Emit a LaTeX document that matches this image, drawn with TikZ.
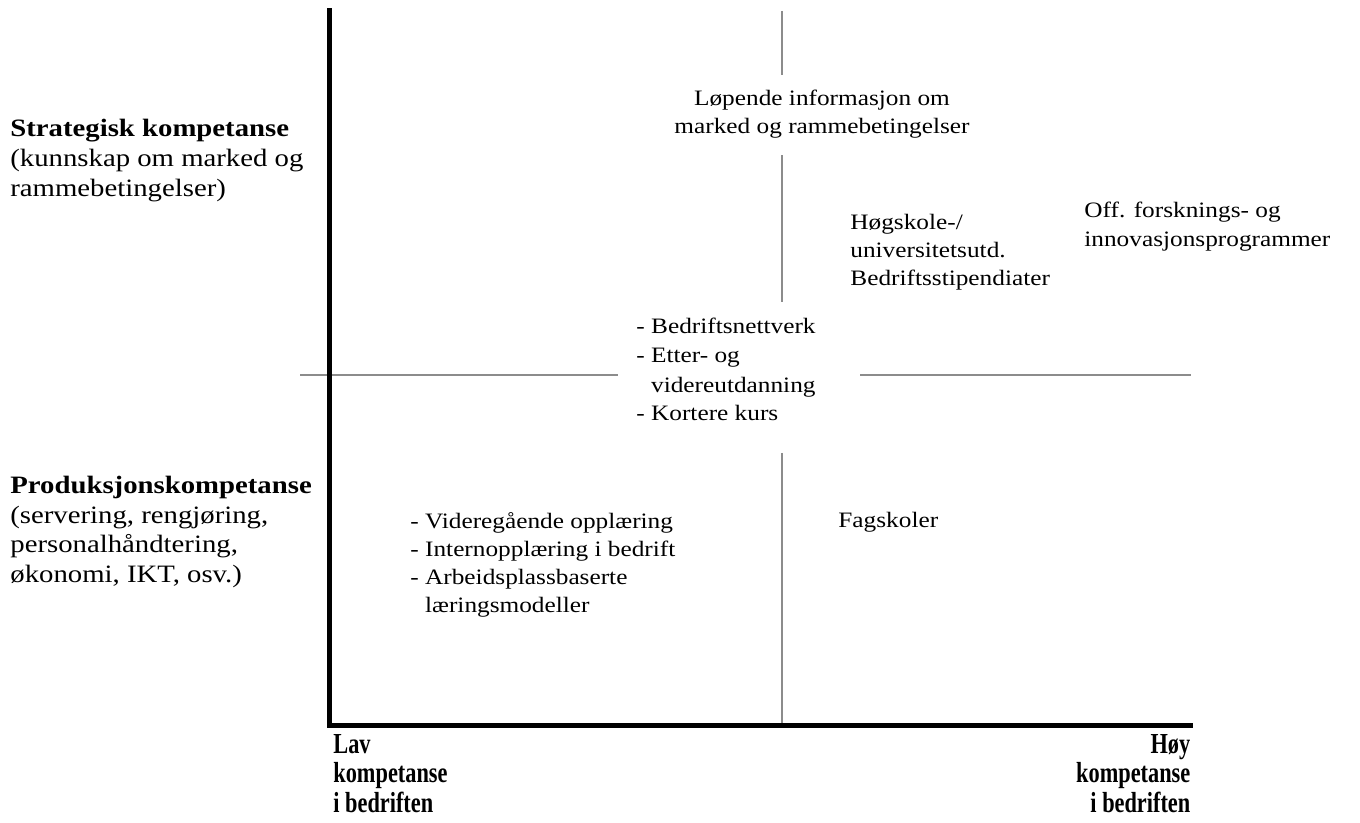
\documentclass[tikz,border=0pt]{standalone}
\usepackage{fontspec}
\setmainfont{Liberation Serif}[FakeStretch=1.15]
\newfontfamily\axisfont{Liberation Serif}[FakeStretch=0.77]
\usetikzlibrary{positioning}
\tikzset{axis/.style={line width=2.5pt, line join=miter, line cap=rect}}
\tikzset{divider/.style={line width=0.75pt, draw=black!45}}
\tikzset{lbl/.style={inner sep=0pt, align=left, anchor=base west,
    font=\fontsize{12.5}{15}\selectfont}}
\tikzset{item/.style={inner sep=0pt, align=left, anchor=base west,
    font=\fontsize{11}{14}\selectfont}}
\tikzset{endlbl/.style={inner sep=0pt, anchor=base west,
    font=\axisfont\bfseries\fontsize{14.5}{14.75}\selectfont}}

\begin{document}
\begin{tikzpicture}[x=0.5pt, y=-0.5pt]
\useasboundingbox (0,0) rectangle (1360,823);

\coordinate (top) at (329.5,11);
\coordinate (origin) at (329.5,725.3);
\coordinate (right) at (1190.7,725.3);
\coordinate (midtop) at (782,11);
\coordinate (midup) at (782,302);
\coordinate (midlow) at (782,453);
\coordinate (midbot) at (782,725.3);
\coordinate (westend) at (300,375);
\coordinate (westgap) at (618,375);
\coordinate (eastgap) at (860,375);
\coordinate (eastend) at (1190.7,375);

\draw[divider] (midtop) -- (midup);
\draw[divider] (midlow) -- (midbot);
\draw[divider] (westend) -- (westgap);
\draw[divider] (eastgap) -- (eastend);
\draw[axis] (top) -- (origin) -- (right);

\node[lbl] (strat) at (10,197) {\textbf{Strategisk kompetanse}\\(kunnskap om marked og\\rammebetingelser)};
\node[lbl, font=\fontsize{12.5}{14.7}\selectfont] (prod) at (10,582) {\textbf{Produksjonskompetanse}\\(servering, rengjøring,\\personalhåndtering,\\økonomi, IKT, osv.)};

\node[endlbl, align=left] (lav) at (333,812) {Lav\\kompetanse\\i bedriften};
\node[endlbl, align=right, anchor=base east] (hoy) at (1190.7,812) {Høy\\kompetanse\\i bedriften};

\node[item, align=center, anchor=base, fill=white, inner xsep=2pt, inner ysep=8pt] (info) at (822,134) {Løpende informasjon om\\marked og rammebetingelser};
\node[item] (hogskole) at (850,286) {Høgskole-/\\universitetsutd.\\Bedriftsstipendiater};
\node[item, font=\fontsize{11}{14.5}\selectfont] (offprog) at (1084,247) {Off. forsknings- og\\innovasjonsprogrammer};
\node[item, font=\fontsize{11}{14.5}\selectfont] (nettverk) at (636,421) {- Bedriftsnettverk\\- Etter- og\\\phantom{- }videreutdanning\\- Kortere kurs};
\node[item] (opplaering) at (410,612) {- Videregående opplæring\\- Internopplæring i bedrift\\- Arbeidsplassbaserte\\\phantom{- }læringsmodeller};
\node[item] (fagskoler) at (838,527) {Fagskoler};
\end{tikzpicture}
\end{document}
